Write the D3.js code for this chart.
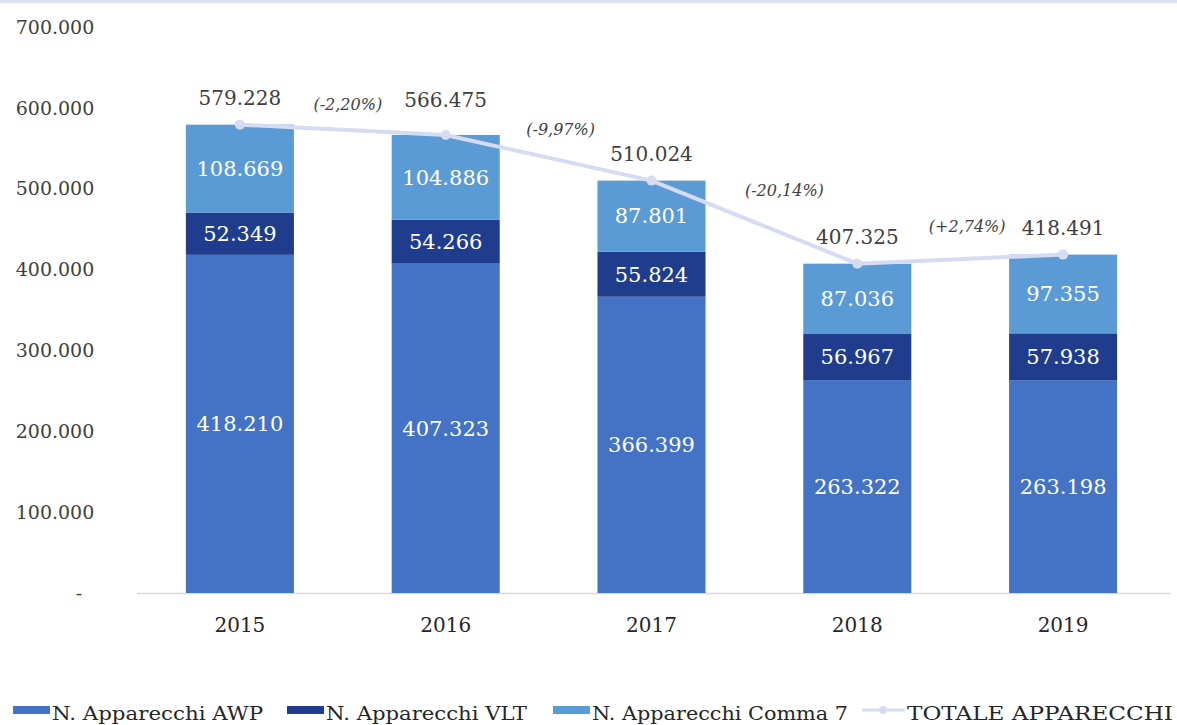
<!DOCTYPE html>
<html>
<head>
<meta charset="utf-8">
<script src="https://cdn.jsdelivr.net/npm/d3@7"></script>
<style>
	body { margin: 0; background: #fff; }
</style>
</head>
<body>
<svg id="svg_chart" width="1177" height="725" font-family="DejaVu Serif, serif"></svg>
<script>
// data
var years = ["2015", "2016", "2017", "2018", "2019"];
var awp = [418210, 407323, 366399, 263322, 263198];
var vlt = [52349, 54266, 55824, 56967, 57938];
var comma7 = [108669, 104886, 87801, 87036, 97355];
var totale = [579228, 566475, 510024, 407325, 418491];
var variazioni = ["(-2,20%)", "(-9,97%)", "(-20,14%)", "(+2,74%)"];
var yTicks = [0, 100000, 200000, 300000, 400000, 500000, 600000, 700000];
var seriesNames = ["N. Apparecchi AWP", "N. Apparecchi VLT", "N. Apparecchi Comma 7"];
var lineName = "TOTALE APPARECCHI";

var colors = ["#4472c4", "#1f3d8c", "#5b9bd5"];
var lineColor = "#d5dcf1";

var svg = d3.select("#svg_chart"),
	width = +svg.attr("width"),
	height = +svg.attr("height"),
	margin = { top: 27, left: 137, right: 12, bottom: 132 };

// light band on top
svg.append("rect").attr("x", 0).attr("y", 0).attr("width", width).attr("height", 3)
	.attr("fill", "#dbe3f3");

var x = d3.scaleBand()
	.domain(years)
	.range([margin.left, 1166])
	.paddingInner(0.475)
	.paddingOuter(0.2375);

var y = d3.scaleLinear()
	.domain([0, 700000])
	.range([height - margin.bottom, margin.top]);

function fmt(v) {
	return d3.format(",")(v).replace(/,/g, ".");
}

// y labels
svg.append("g").selectAll("text").data(yTicks).enter()
	.append("text")
	.attr("x", function(d) { return d == 0 ? 79 : 55; })
	.attr("y", function(d) { return y(d); })
	.attr("dy", "0.35em")
	.attr("text-anchor", "middle")
	.attr("font-size", 19)
	.attr("fill", "#404040")
	.text(function(d) { return d == 0 ? "-" : fmt(d); });

// x axis line
svg.append("line")
	.attr("x1", margin.left).attr("x2", 1171)
	.attr("y1", y(0) + 0.5).attr("y2", y(0) + 0.5)
	.attr("stroke", "#d9d9d9").attr("stroke-width", 1.5);

svg.append("g").selectAll("text").data(years).enter()
	.append("text")
	.attr("x", function(d) { return x(d) + x.bandwidth() / 2; })
	.attr("y", 632)
	.attr("text-anchor", "middle")
	.attr("font-size", 20)
	.attr("fill", "#262626")
	.text(function(d) { return d; });

// stacked bars
var rows = years.map(function(yr, i) {
	return { year: yr, awp: awp[i], vlt: vlt[i], comma7: comma7[i] };
});
var stack = d3.stack().keys(["awp", "vlt", "comma7"])(rows);

var g_bar = svg.append("g");
stack.forEach(function(layer, k) {
	var g = g_bar.append("g");
	g.selectAll("rect").data(layer).enter()
		.append("rect")
		.attr("x", function(d) { return x(d.data.year); })
		.attr("y", function(d) { return y(d[1]); })
		.attr("width", x.bandwidth())
		.attr("height", function(d) { return y(d[0]) - y(d[1]); })
		.attr("fill", colors[k]);
	g.selectAll("text").data(layer).enter()
		.append("text")
		.attr("x", function(d) { return x(d.data.year) + x.bandwidth() / 2; })
		.attr("y", function(d) { return (y(d[0]) + y(d[1])) / 2; })
		.attr("dy", "0.35em")
		.attr("text-anchor", "middle")
		.attr("font-size", 21)
		.attr("fill", "#ffffff")
		.text(function(d) { return fmt(d[1] - d[0]); });
});

// total line
var line = d3.line()
	.x(function(d, i) { return x(years[i]) + x.bandwidth() / 2; })
	.y(function(d) { return y(d); });

svg.append("path")
	.attr("d", line(totale))
	.attr("fill", "none")
	.attr("stroke", lineColor)
	.attr("stroke-width", 4);

svg.append("g").selectAll("circle").data(totale).enter()
	.append("circle")
	.attr("cx", function(d, i) { return x(years[i]) + x.bandwidth() / 2; })
	.attr("cy", function(d) { return y(d); })
	.attr("r", 5)
	.attr("fill", lineColor);

svg.append("g").selectAll("text").data(totale).enter()
	.append("text")
	.attr("x", function(d, i) { return x(years[i]) + x.bandwidth() / 2; })
	.attr("y", function(d, i) { return y(d) - (i == 1 ? 35 : 27); })
	.attr("dy", "0.35em")
	.attr("text-anchor", "middle")
	.attr("font-size", 20)
	.attr("fill", "#404040")
	.text(function(d) { return fmt(d); });

// variazioni %
svg.append("g").selectAll("text").data(variazioni).enter()
	.append("text")
	.attr("x", function(d, i) {
		return (x(years[i]) + x(years[i + 1])) / 2 + x.bandwidth() / 2 + [5, 12, 30, 7][i];
	})
	.attr("y", function(d, i) { return (y(totale[i]) + y(totale[i + 1])) / 2 - [25, 28, 32, 33][i]; })
	.attr("dy", "0.35em")
	.attr("text-anchor", "middle")
	.attr("font-size", 16)
	.attr("font-style", "italic")
	.attr("fill", "#404040")
	.text(function(d) { return d; });

// legend
var legend = svg.append("g").attr("transform", "translate(0,712)");
var legX = [13, 287, 553];
var legW = [211, 201, 256];
seriesNames.forEach(function(name, k) {
	legend.append("rect")
		.attr("x", legX[k]).attr("y", -6)
		.attr("width", 37).attr("height", 8)
		.attr("fill", colors[k]);
	legend.append("text")
		.attr("x", legX[k] + 39).attr("y", 1)
		.attr("dy", "0.35em")
		.attr("font-size", 19)
		.attr("textLength", legW[k])
		.attr("lengthAdjust", "spacingAndGlyphs")
		.attr("fill", "#262626")
		.text(name);
});
legend.append("line")
	.attr("x1", 862).attr("x2", 905).attr("y1", -2).attr("y2", -2)
	.attr("stroke", lineColor).attr("stroke-width", 3);
legend.append("circle").attr("cx", 883).attr("cy", -2).attr("r", 4).attr("fill", lineColor);
legend.append("text")
	.attr("x", 907).attr("y", 1)
	.attr("dy", "0.35em")
	.attr("font-size", 19)
	.attr("textLength", 266)
	.attr("lengthAdjust", "spacingAndGlyphs")
	.attr("fill", "#262626")
	.text(lineName);
</script>
</body>
</html>
